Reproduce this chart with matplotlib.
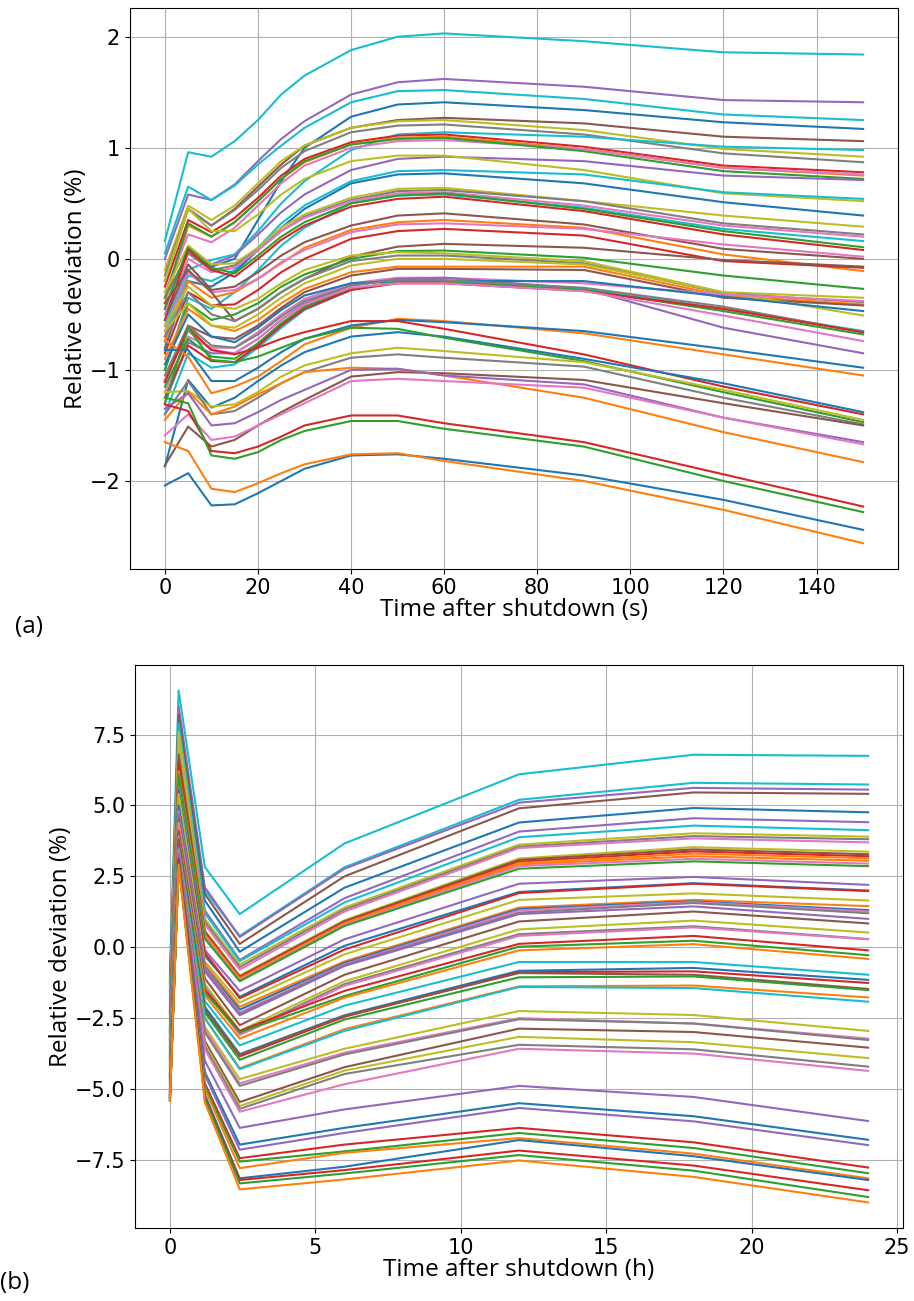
import matplotlib
matplotlib.use("Agg")
import matplotlib.pyplot as plt

# ---- panel (a): seconds after shutdown ----
top_x = [0, 5, 10, 15, 20, 25, 30, 40, 50, 60, 90, 120, 150]

top_lines = [
    [0.16, 0.96, 0.92, 1.06, 1.25, 1.48, 1.65, 1.88, 2.00, 2.03, 1.96, 1.86, 1.84],
    [0.00, 0.58, 0.53, 0.67, 0.88, 1.08, 1.24, 1.48, 1.59, 1.62, 1.55, 1.43, 1.41],
    [0.05, 0.65, 0.53, 0.66, 0.85, 1.02, 1.18, 1.41, 1.51, 1.52, 1.44, 1.30, 1.25],
    [-0.35, 0.05, -0.07, 0.00, 0.35, 0.70, 1.00, 1.28, 1.39, 1.41, 1.34, 1.23, 1.17],
    [-0.20, 0.45, 0.30, 0.45, 0.65, 0.85, 1.02, 1.18, 1.25, 1.27, 1.22, 1.10, 1.06],
    [-0.10, 0.48, 0.35, 0.48, 0.68, 0.88, 1.02, 1.18, 1.24, 1.25, 1.16, 0.99, 0.92],
    [-0.15, 0.45, 0.30, 0.44, 0.62, 0.82, 0.97, 1.14, 1.20, 1.21, 1.12, 0.95, 0.87],
    [-0.60, -0.10, -0.01, 0.04, 0.25, 0.50, 0.70, 0.98, 1.12, 1.14, 1.10, 1.01, 0.98],
    [-0.25, 0.35, 0.24, 0.37, 0.55, 0.75, 0.90, 1.05, 1.11, 1.12, 1.01, 0.84, 0.78],
    [-0.40, 0.30, 0.20, 0.33, 0.52, 0.72, 0.87, 1.03, 1.09, 1.10, 0.99, 0.82, 0.75],
    [-0.30, 0.22, 0.15, 0.28, 0.48, 0.68, 0.84, 1.00, 1.06, 1.07, 0.99, 0.82, 0.76],
    [-0.35, 0.32, 0.20, 0.33, 0.52, 0.72, 0.88, 1.03, 1.08, 1.09, 0.97, 0.79, 0.72],
    [-0.45, 0.10, -0.05, 0.03, 0.22, 0.42, 0.58, 0.80, 0.90, 0.92, 0.88, 0.75, 0.71],
    [-0.20, 0.45, 0.25, 0.25, 0.40, 0.58, 0.72, 0.88, 0.93, 0.93, 0.80, 0.59, 0.52],
    [-0.70, -0.15, -0.20, -0.10, 0.10, 0.32, 0.48, 0.70, 0.79, 0.80, 0.76, 0.60, 0.54],
    [-0.80, -0.20, -0.25, -0.12, 0.08, 0.28, 0.45, 0.68, 0.76, 0.77, 0.68, 0.51, 0.39],
    [-0.30, 0.12, -0.05, -0.04, 0.10, 0.28, 0.40, 0.55, 0.63, 0.64, 0.52, 0.39, 0.29],
    [-0.35, 0.05, -0.10, -0.06, 0.08, 0.25, 0.38, 0.53, 0.61, 0.62, 0.52, 0.32, 0.22],
    [-0.50, 0.00, -0.12, -0.08, 0.08, 0.25, 0.37, 0.52, 0.59, 0.60, 0.48, 0.30, 0.20],
    [-1.00, -0.35, -0.45, -0.30, -0.10, 0.12, 0.28, 0.50, 0.57, 0.58, 0.46, 0.27, 0.16],
    [-0.45, 0.10, -0.08, -0.13, 0.03, 0.20, 0.33, 0.50, 0.57, 0.59, 0.45, 0.25, 0.105],
    [-0.55, 0.08, -0.10, -0.16, 0.00, 0.17, 0.30, 0.47, 0.54, 0.56, 0.43, 0.22, 0.08],
    [-0.55, -0.05, -0.28, -0.25, -0.12, 0.03, 0.15, 0.30, 0.39, 0.41, 0.31, 0.09, 0.00],
    [-0.75, -0.20, -0.35, -0.30, -0.18, -0.04, 0.10, 0.26, 0.33, 0.35, 0.28, 0.04, -0.11],
    [-0.65, -0.12, -0.30, -0.28, -0.18, -0.03, 0.08, 0.24, 0.31, 0.32, 0.27, 0.13, 0.02],
    [-0.85, -0.30, -0.42, -0.41, -0.28, -0.12, 0.00, 0.18, 0.25, 0.27, 0.21, -0.02, -0.08],
    [-0.40, -0.10, -0.30, -0.56, -0.45, -0.30, -0.18, 0.02, 0.11, 0.135, 0.10, -0.01, -0.07],
    [-1.00, -0.40, -0.55, -0.50, -0.40, -0.25, -0.14, 0.00, 0.07, 0.075, 0.01, -0.15, -0.27],
    [-0.60, -0.25, -0.42, -0.45, -0.36, -0.22, -0.10, 0.03, 0.06, 0.05, -0.02, -0.30, -0.35],
    [-0.70, -0.30, -0.50, -0.56, -0.45, -0.30, -0.18, -0.02, 0.03, 0.03, -0.04, -0.31, -0.39],
    [-0.90, -0.45, -0.60, -0.65, -0.55, -0.40, -0.27, -0.12, -0.07, -0.07, -0.07, -0.33, -0.41],
    [-1.10, -0.60, -0.70, -0.72, -0.60, -0.44, -0.30, -0.15, -0.09, -0.09, -0.10, -0.35, -0.42],
    [-0.65, -0.40, -0.60, -0.62, -0.50, -0.35, -0.22, -0.06, 0.00, 0.00, -0.05, -0.30, -0.51],
    [-1.20, -0.70, -0.80, -0.80, -0.66, -0.50, -0.36, -0.22, -0.17, -0.17, -0.22, -0.32, -0.38],
    [-1.30, -0.75, -0.85, -0.85, -0.72, -0.55, -0.40, -0.24, -0.18, -0.17, -0.27, -0.62, -0.85],
    [-0.95, -0.50, -0.70, -0.75, -0.62, -0.46, -0.33, -0.22, -0.20, -0.20, -0.20, -0.34, -0.47],
    [-1.40, -0.85, -0.98, -0.95, -0.80, -0.62, -0.46, -0.28, -0.20, -0.20, -0.27, -0.45, -0.65],
    [-1.05, -0.60, -0.78, -0.80, -0.68, -0.52, -0.38, -0.24, -0.19, -0.19, -0.26, -0.43, -0.66],
    [-1.15, -0.72, -0.88, -0.90, -0.76, -0.58, -0.43, -0.27, -0.21, -0.21, -0.28, -0.47, -0.68],
    [-1.25, -0.78, -0.92, -0.93, -0.78, -0.60, -0.45, -0.28, -0.22, -0.22, -0.29, -0.45, -0.66],
    [-1.10, -0.65, -0.82, -0.85, -0.72, -0.55, -0.41, -0.26, -0.22, -0.22, -0.29, -0.51, -0.74],
    [-0.73, -0.88, -1.21, -1.15, -1.06, -0.92, -0.77, -0.62, -0.54, -0.56, -0.67, -0.86, -1.05],
    [-0.82, -0.82, -1.10, -1.10, -0.98, -0.84, -0.72, -0.60, -0.55, -0.57, -0.65, -0.81, -0.98],
    [-1.11, -0.62, -0.82, -0.86, -0.80, -0.72, -0.66, -0.56, -0.56, -0.63, -0.86, -1.15, -1.40],
    [-1.87, -1.09, -1.34, -1.25, -1.10, -0.96, -0.84, -0.70, -0.66, -0.70, -0.90, -1.12, -1.38],
    [-1.30, -0.62, -0.91, -0.93, -0.88, -0.80, -0.72, -0.62, -0.63, -0.71, -0.92, -1.20, -1.47],
    [-1.20, -1.19, -1.33, -1.31, -1.20, -1.06, -0.96, -0.85, -0.80, -0.83, -0.93, -1.18, -1.45],
    [-1.40, -1.10, -1.40, -1.37, -1.25, -1.12, -1.02, -0.89, -0.86, -0.89, -0.97, -1.25, -1.49],
    [-1.86, -1.51, -1.69, -1.63, -1.50, -1.38, -1.27, -1.06, -1.02, -1.03, -1.09, -1.30, -1.50],
    [-1.45, -1.20, -1.40, -1.33, -1.22, -1.12, -1.02, -0.98, -0.99, -1.05, -1.25, -1.56, -1.83],
    [-1.35, -1.21, -1.50, -1.48, -1.38, -1.27, -1.18, -1.00, -0.99, -1.05, -1.13, -1.43, -1.65],
    [-1.59, -1.40, -1.63, -1.60, -1.50, -1.40, -1.30, -1.10, -1.08, -1.10, -1.16, -1.43, -1.67],
    [-1.31, -1.37, -1.73, -1.75, -1.69, -1.60, -1.50, -1.41, -1.41, -1.48, -1.65, -1.94, -2.23],
    [-1.25, -1.30, -1.77, -1.80, -1.74, -1.63, -1.55, -1.46, -1.46, -1.53, -1.69, -2.00, -2.28],
    [-2.04, -1.93, -2.22, -2.21, -2.11, -2.00, -1.89, -1.77, -1.76, -1.80, -1.95, -2.17, -2.44],
    [-1.65, -1.73, -2.07, -2.10, -2.02, -1.93, -1.85, -1.76, -1.75, -1.82, -2.00, -2.26, -2.56],
]

# ---- panel (b): hours after shutdown ----
bot_x = [0, 0.3, 1.2, 2.4, 6, 12, 18, 24]

bot_lines = [
    [-1.0, 9.05, 2.83, 1.17, 3.66, 6.10, 6.79, 6.75],
    [-1.3, 8.0, 2.0, 0.40, 2.82, 5.20, 5.80, 5.74],
    [-1.5, 8.5, 2.12, 0.36, 2.77, 5.10, 5.62, 5.56],
    [-1.2, 8.2, 1.88, 0.12, 2.50, 4.90, 5.46, 5.41],
    [-1.8, 7.8, 1.65, -0.16, 2.10, 4.40, 4.91, 4.76],
    [-2.0, 7.5, 1.3, -0.45, 1.73, 4.08, 4.55, 4.41],
    [-1.6, 7.9, 1.2, -0.49, 1.58, 3.88, 4.29, 4.13],
    [-2.2, 7.6, 1.0, -0.61, 1.40, 3.62, 4.02, 3.90],
    [-2.4, 7.3, 0.9, -0.70, 1.33, 3.55, 3.92, 3.81],
    [-2.1, 7.2, 0.8, -0.79, 1.26, 3.50, 3.84, 3.70],
    [-2.6, 7.4, 0.6, -1.00, 0.95, 3.13, 3.53, 3.37],
    [-2.3, 6.8, 0.55, -1.03, 0.92, 3.08, 3.45, 3.28],
    [-2.8, 6.5, 0.5, -1.06, 0.88, 3.02, 3.38, 3.21],
    [-3.0, 6.2, 0.45, -1.10, 0.85, 2.97, 3.30, 3.14],
    [-2.7, 6.0, 0.4, -1.14, 0.81, 2.92, 3.21, 3.05],
    [-3.1, 5.8, 0.35, -1.17, 0.78, 2.86, 3.12, 2.95],
    [-2.9, 6.1, 0.3, -1.20, 0.75, 2.77, 3.03, 2.86],
    [-3.2, 5.6, -0.1, -1.54, 0.28, 2.24, 2.48, 2.20],
    [-3.0, 5.5, -0.3, -1.75, 0.05, 1.95, 2.26, 2.00],
    [-3.3, 5.2, -0.2, -1.80, -0.08, 1.91, 2.24, 1.98],
    [-3.4, 5.4, -0.5, -1.95, -0.25, 1.67, 1.90, 1.65],
    [-3.6, 4.9, -0.6, -2.10, -0.50, 1.40, 1.67, 1.45],
    [-3.5, 5.0, -0.7, -2.20, -0.55, 1.35, 1.62, 1.31],
    [-3.3, 4.8, -0.75, -2.30, -0.60, 1.30, 1.59, 1.26],
    [-3.8, 4.6, -0.8, -2.35, -0.63, 1.22, 1.56, 1.20],
    [-3.7, 4.7, -0.85, -2.40, -0.66, 1.17, 1.44, 1.00],
    [-3.9, 4.5, -1.1, -2.75, -0.97, 0.91, 1.26, 0.84],
    [-4.0, 4.4, -1.3, -2.95, -1.20, 0.63, 0.94, 0.52],
    [-4.1, 4.2, -1.4, -3.05, -1.30, 0.46, 0.74, 0.29],
    [-3.9, 4.3, -1.45, -3.10, -1.36, 0.40, 0.70, 0.28],
    [-4.2, 4.1, -1.5, -2.95, -1.54, 0.12, 0.40, -0.11],
    [-4.3, 4.0, -1.6, -3.00, -1.72, 0.02, 0.23, -0.28],
    [-4.4, 3.9, -1.7, -3.22, -1.78, -0.11, 0.11, -0.41],
    [-4.0, 3.8, -1.9, -3.46, -2.06, -0.52, -0.52, -0.97],
    [-4.5, 3.7, -2.1, -3.77, -2.40, -0.83, -0.73, -1.15],
    [-4.6, 3.6, -2.2, -3.85, -2.45, -0.88, -0.85, -1.26],
    [-4.5, 3.8, -2.2, -3.80, -2.42, -0.91, -0.97, -1.47],
    [-4.7, 3.5, -2.3, -3.97, -2.55, -1.06, -1.03, -1.51],
    [-4.8, 3.4, -2.5, -4.27, -2.89, -1.38, -1.35, -1.77],
    [-4.6, 3.5, -2.5, -4.30, -2.95, -1.40, -1.44, -1.92],
    [-4.9, 3.3, -2.8, -4.65, -3.58, -2.25, -2.39, -2.95],
    [-5.0, 3.4, -2.9, -4.80, -3.72, -2.50, -2.69, -3.22],
    [-4.8, 3.3, -3.0, -4.89, -3.78, -2.54, -2.69, -3.27],
    [-5.1, 3.2, -3.3, -5.46, -4.23, -2.87, -2.99, -3.54],
    [-5.0, 3.1, -3.4, -5.60, -4.35, -3.16, -3.35, -3.91],
    [-5.2, 3.0, -3.5, -5.70, -4.47, -3.44, -3.60, -4.21],
    [-5.1, 3.2, -3.6, -5.80, -4.83, -3.58, -3.75, -4.36],
    [-5.2, 3.3, -4.0, -6.37, -5.72, -4.89, -5.28, -6.13],
    [-5.3, 3.1, -4.4, -6.96, -6.37, -5.50, -5.96, -6.79],
    [-5.3, 3.0, -4.5, -7.14, -6.55, -5.67, -6.14, -6.98],
    [-5.4, 3.1, -4.8, -7.44, -6.96, -6.37, -6.88, -7.77],
    [-5.3, 3.0, -4.9, -7.56, -7.20, -6.55, -7.08, -7.97],
    [-5.4, 2.9, -5.0, -7.79, -7.25, -6.73, -7.28, -8.15],
    [-5.2, 3.0, -5.2, -8.15, -7.74, -6.80, -7.37, -8.21],
    [-5.3, 3.1, -5.3, -8.21, -7.86, -7.17, -7.70, -8.57],
    [-5.4, 2.95, -5.35, -8.33, -7.98, -7.33, -7.88, -8.81],
    [-5.4, 2.9, -5.47, -8.54, -8.19, -7.52, -8.10, -9.00],
]

# colours (tab10 index) of each line, same order as above
top_colors = [9, 4, 9, 0, 5, 8, 7, 9, 3, 1, 6, 2, 4, 8, 9, 0, 8, 7, 6, 9, 2, 3,
              5, 1, 6, 3, 5, 2, 8, 7, 1, 5, 8, 6, 4, 0, 9, 7, 2, 3, 6,
              1, 0, 3, 0, 2, 8, 7, 5, 1, 4, 6, 3, 2, 0, 1]
bot_colors = [9, 9, 4, 5, 0, 4, 9, 8, 7, 6, 8, 5, 3, 1, 1, 6, 2, 4, 0, 3, 8, 1,
              0, 6, 7, 4, 5, 8, 7, 6, 3, 2, 1, 9, 0, 3, 5, 2, 1, 9, 8, 6, 7,
              5, 8, 7, 6, 4, 0, 4, 3, 2, 1, 0, 3, 2, 1]

label_font = ["Open Sans", "DejaVu Sans"]

fig = plt.figure(figsize=(9.14, 13.01), dpi=100)
ax1 = fig.add_axes([0.1422, 0.5629, 0.8403, 0.431])
ax2 = fig.add_axes([0.1477, 0.0561, 0.8403, 0.4327])

for vals, c in zip(top_lines, top_colors):
    ax1.plot(top_x, vals, color=f"C{c}", lw=1.5)
for vals, c in zip(bot_lines, bot_colors):
    ax2.plot(bot_x, vals, color=f"C{c}", lw=1.5)

for ax in (ax1, ax2):
    ax.grid(True)
    ax.tick_params(labelsize=15)
    ax.set_ylabel("Relative deviation (%)", fontsize=17.5, family=label_font, labelpad=1)

ax1.set_xlabel("Time after shutdown (s)", fontsize=17.5, family=label_font, labelpad=0)
ax2.set_xlabel("Time after shutdown (h)", fontsize=17.5, family=label_font, labelpad=0)
ax1.set_xticks(range(0, 141, 20))
ax1.set_yticks([-2, -1, 0, 1, 2])

fig.text(0.016, 1 - 627 / 1301, "(a)", fontsize=17.5, family=label_font, va="center")
fig.text(0.0, 1 - 1283 / 1301, "(b)", fontsize=17.5, family=label_font, va="center")

fig.savefig("out.png", dpi=100)
